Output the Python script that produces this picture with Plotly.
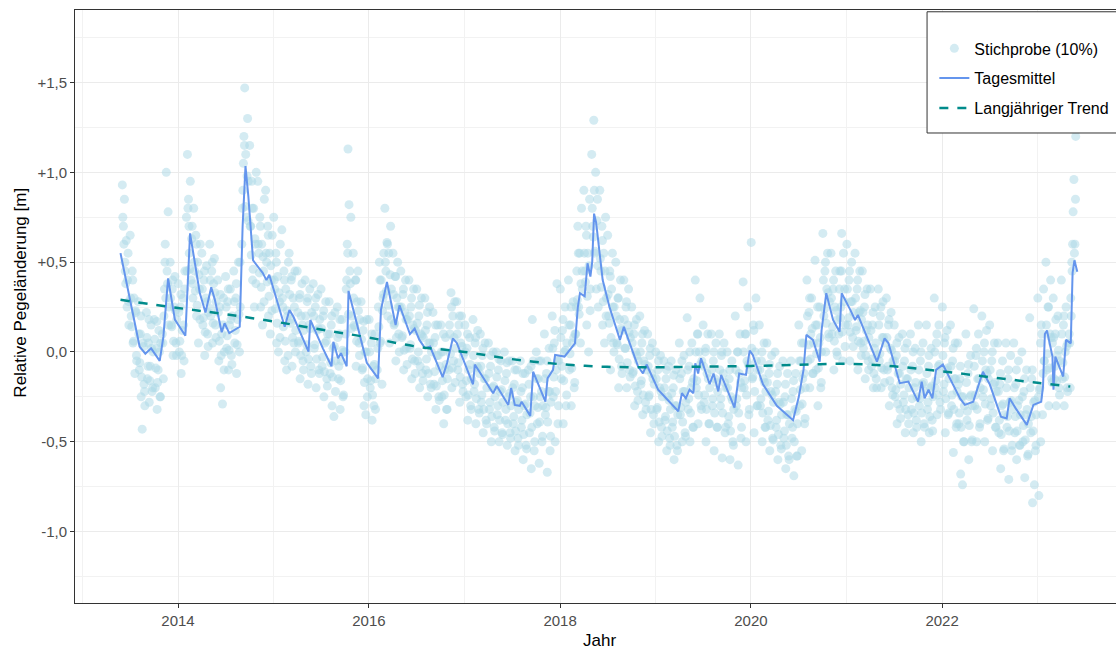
import plotly.graph_objects as go

# ---------------- data ----------------
mean_dates = [
    "2013-05-26", "2013-08-07", "2013-08-29", "2013-09-20", "2013-10-23", "2013-11-06", "2013-11-24",
    "2013-12-20", "2014-01-29", "2014-02-16", "2014-03-25", "2014-04-16", "2014-05-08", "2014-05-22",
    "2014-06-17", "2014-06-28", "2014-07-16", "2014-08-25", "2014-09-05", "2014-09-16", "2014-09-27",
    "2014-10-15", "2014-11-21", "2014-12-05", "2014-12-16", "2015-01-26", "2015-02-13", "2015-03-03",
    "2015-03-18", "2015-05-15", "2015-05-22", "2015-07-09", "2015-08-11", "2015-08-18", "2015-09-05",
    "2015-09-16", "2015-10-08", "2015-10-15", "2015-11-06", "2015-12-24", "2016-02-05", "2016-02-16",
    "2016-03-10", "2016-04-12", "2016-04-27", "2016-06-06", "2016-06-24", "2016-07-12", "2016-08-03",
    "2016-08-22", "2016-10-09", "2016-10-26", "2016-11-17", "2016-12-02", "2017-02-02", "2017-02-09",
    "2017-04-20", "2017-05-04", "2017-06-17", "2017-06-28", "2017-07-12", "2017-07-31", "2017-08-07",
    "2017-09-09", "2017-09-20", "2017-11-06", "2017-11-14", "2017-12-05", "2017-12-13", "2018-01-18",
    "2018-02-02", "2018-02-27", "2018-03-10", "2018-03-18", "2018-04-05", "2018-04-16", "2018-04-27",
    "2018-05-04", "2018-05-11", "2018-05-19", "2018-06-13", "2018-07-09", "2018-08-18", "2018-09-02",
    "2018-10-26", "2018-11-14", "2018-11-28", "2019-01-11", "2019-03-29", "2019-04-12", "2019-04-27",
    "2019-05-11", "2019-05-26", "2019-06-02", "2019-06-13", "2019-06-24", "2019-07-27", "2019-08-11",
    "2019-08-29", "2019-09-09", "2019-10-30", "2019-11-17", "2019-12-13", "2019-12-27", "2020-01-08",
    "2020-02-16", "2020-04-09", "2020-05-30", "2020-06-10", "2020-07-02", "2020-07-20", "2020-07-31",
    "2020-08-25", "2020-09-20", "2020-09-27", "2020-10-15", "2020-11-10", "2020-12-05", "2020-12-13",
    "2021-01-15", "2021-02-02", "2021-02-13", "2021-04-27", "2021-05-26", "2021-06-10", "2021-07-23",
    "2021-08-25", "2021-10-01", "2021-10-15", "2021-10-26", "2021-11-10", "2021-11-25", "2021-12-09",
    "2022-01-04", "2022-01-29", "2022-03-11", "2022-03-29", "2022-04-30", "2022-06-06", "2022-07-02",
    "2022-08-14", "2022-09-05", "2022-09-16", "2022-10-12", "2022-11-21", "2022-12-16", "2023-01-15",
    "2023-01-22", "2023-01-29", "2023-02-06", "2023-02-27", "2023-03-03", "2023-03-10", "2023-04-09",
    "2023-04-20", "2023-05-08", "2023-05-15", "2023-05-22", "2023-06-02",
]
mean_values = [
    0.55, 0.03, -0.01, 0.02, -0.05, 0.085, 0.41,
    0.18, 0.09, 0.66, 0.33, 0.22, 0.36, 0.29,
    0.11, 0.16, 0.105, 0.14, 0.70, 1.035, 0.865,
    0.51, 0.44, 0.40, 0.43, 0.22, 0.14, 0.234,
    0.197, 0.002, 0.178, 0.02, -0.08, 0.057, -0.035,
    -0.007, -0.08, 0.34, 0.217, -0.06, -0.147, 0.234,
    0.39, 0.15, 0.26, 0.10, 0.13, 0.067, 0.02,
    0.03, -0.14, -0.06, 0.076, 0.05, -0.18, -0.07,
    -0.23, -0.19, -0.295, -0.20, -0.295, -0.30, -0.277,
    -0.356, -0.11, -0.277, -0.147, -0.10, -0.017, -0.026,
    0.002, 0.048, 0.25, 0.327, 0.31, 0.494, 0.42,
    0.503, 0.77, 0.72, 0.40, 0.25, 0.067, 0.14,
    -0.08, -0.12, -0.07, -0.21, -0.33, -0.23, -0.258,
    -0.21, -0.23, -0.063, -0.12, -0.035, -0.18, -0.12,
    -0.22, -0.128, -0.31, -0.12, -0.128, 0.007, -0.017,
    -0.18, -0.30, -0.37, -0.38, -0.25, -0.10, 0.095,
    0.067, -0.054, 0.12, 0.327, 0.178, 0.113, 0.327,
    0.234, 0.178, 0.206, -0.054, 0.076, 0.048, -0.174,
    -0.165, -0.277, -0.165, -0.258, -0.21, -0.258, -0.10,
    -0.07, -0.14, -0.26, -0.295, -0.277, -0.11, -0.18,
    -0.36, -0.37, -0.258, -0.32, -0.406, -0.295, -0.277,
    -0.19, 0.10, 0.12, -0.026, -0.21, -0.026, -0.137,
    0.067, 0.048, 0.44, 0.51, 0.447,
]

trend_dates = [
    "2013-05-26", "2014-01-01", "2014-07-01", "2015-01-01", "2015-07-01", "2016-01-01",
    "2016-07-01", "2017-01-01", "2017-07-01", "2018-01-01", "2018-07-01", "2019-01-01",
    "2019-07-01", "2020-01-01", "2020-07-01", "2021-01-01", "2021-07-01", "2022-01-01",
    "2022-07-01", "2023-01-01", "2023-05-06",
]
trend_values = [
    0.29, 0.245, 0.21, 0.17, 0.125, 0.08,
    0.03, 0.0, -0.04, -0.068, -0.083, -0.085,
    -0.082, -0.078, -0.072, -0.066, -0.08, -0.108,
    -0.14, -0.172, -0.193,
]

# 10% sample: months and the sampled values read per month (spread rows + core rows)
sample_months = [f"{y}-{m:02d}" for y in range(2013, 2024) for m in range(1, 13)
                 if "2013-06" <= f"{y}-{m:02d}" <= "2023-05"]
sample_days = [2, 6, 10, 13, 17, 20, 24, 27]
sample_values = [
    [0.93, 0.70, 0.85, 0.45, 0.62, 0.25, 0.55, 0.15],
    [0.65, 0.20, 0.45, 0.05, 0.30, -0.12, 0.22, -0.05],
    [0.28, -0.10, 0.10, -0.25, -0.43, 0.05, -0.18, -0.30],
    [0.22, -0.15, 0.05, -0.28, -0.08, 0.15, -0.22, 0.0],
    [0.18, -0.20, 0.02, -0.32, -0.10, 0.12, -0.25, 0.05],
    [0.10, -0.15, 0.35, 0.60, 1.00, 0.45, 0.78, 0.25],
    [0.50, 0.15, 0.35, -0.02, 0.25, 0.42, 0.05, 0.18],
    [0.38, 0.0, 0.25, -0.12, 0.12, 0.30, -0.05, 0.45],
    [0.75, 1.10, 0.85, 0.55, 0.95, 0.40, 0.70, 0.30],
    [0.80, 0.45, 0.65, 0.20, 0.50, 0.05, 0.35, 0.60],
    [0.55, 0.15, 0.40, -0.02, 0.30, 0.48, 0.10, 0.22],
    [0.60, 0.20, 0.45, 0.05, 0.38, 0.52, 0.15, 0.28],
    [0.40, -0.05, 0.25, -0.20, 0.10, -0.29, 0.30, 0.0],
    [0.42, 0.02, 0.28, -0.10, 0.15, 0.35, -0.02, 0.20],
    [0.45, 0.05, 0.30, -0.12, 0.18, 0.50, 0.0, 0.25],
    [0.60, 0.90, 1.20, 1.47, 1.10, 0.75, 1.30, 0.95],
    [1.15, 0.70, 0.95, 0.40, 0.80, 0.25, 0.60, 1.00],
    [0.95, 0.55, 0.75, 0.25, 0.60, 0.15, 0.45, 0.85],
    [0.90, 0.50, 0.70, 0.20, 0.55, 0.10, 0.40, 0.65],
    [0.75, 0.35, 0.55, 0.05, 0.42, 0.0, 0.28, 0.60],
    [0.68, 0.25, 0.45, -0.05, 0.35, -0.10, 0.20, 0.50],
    [0.55, 0.18, 0.40, -0.08, 0.30, 0.05, 0.45, 0.12],
    [0.45, 0.05, 0.30, -0.15, 0.20, 0.38, -0.05, 0.12],
    [0.40, 0.0, 0.28, -0.18, 0.15, 0.35, -0.08, 0.22],
    [0.38, 0.02, 0.25, -0.20, 0.12, 0.32, -0.10, 0.18],
    [0.35, -0.08, 0.20, -0.25, 0.05, 0.28, -0.15, 0.10],
    [0.28, -0.12, 0.15, -0.30, 0.02, -0.36, 0.22, -0.05],
    [0.25, -0.15, 0.10, -0.32, -0.05, 0.18, -0.25, 0.0],
    [0.0, 0.35, 0.60, 1.13, 0.82, 0.45, 0.75, 0.20],
    [0.55, 0.15, 0.40, -0.08, 0.28, 0.45, 0.05, 0.18],
    [0.28, -0.10, 0.12, -0.30, 0.0, -0.35, 0.18, -0.15],
    [0.18, -0.20, 0.05, -0.38, -0.08, -0.30, 0.10, -0.15],
    [-0.10, 0.25, 0.50, 0.05, 0.40, -0.18, 0.30, 0.55],
    [0.80, 0.45, 0.61, 0.20, 0.55, 0.05, 0.70, 0.35],
    [0.55, 0.15, 0.42, -0.05, 0.30, 0.50, 0.10, 0.25],
    [0.45, 0.08, 0.32, -0.10, 0.22, 0.40, 0.02, 0.18],
    [0.40, 0.02, 0.25, -0.15, 0.15, 0.35, -0.05, 0.12],
    [0.35, -0.05, 0.20, -0.20, 0.10, 0.30, -0.12, 0.08],
    [0.30, -0.10, 0.15, -0.25, 0.05, 0.25, -0.18, 0.0],
    [0.22, -0.18, 0.08, -0.32, -0.02, 0.15, -0.25, -0.08],
    [0.15, -0.25, 0.0, -0.40, -0.10, 0.08, -0.32, -0.15],
    [-0.10, 0.10, 0.33, -0.20, 0.20, -0.05, 0.28, 0.02],
    [0.28, -0.10, 0.15, -0.28, 0.05, 0.20, -0.18, -0.02],
    [0.15, -0.25, 0.02, -0.38, -0.10, 0.08, -0.30, -0.15],
    [0.18, -0.22, 0.05, -0.40, -0.08, 0.12, -0.32, -0.12],
    [0.10, -0.28, -0.02, -0.45, -0.15, 0.05, -0.38, -0.20],
    [0.05, -0.32, -0.08, -0.50, -0.20, 0.0, -0.42, -0.25],
    [0.0, -0.35, -0.10, -0.50, -0.22, -0.05, -0.45, -0.28],
    [0.0, -0.38, -0.12, -0.52, -0.25, -0.05, -0.45, -0.30],
    [-0.05, -0.40, -0.18, -0.55, -0.28, -0.10, -0.48, -0.32],
    [-0.05, -0.42, -0.20, -0.60, -0.30, -0.12, -0.52, -0.35],
    [-0.10, -0.45, -0.25, -0.65, 0.18, -0.05, -0.55, -0.30],
    [0.0, -0.40, -0.15, -0.62, -0.25, -0.05, -0.50, -0.30],
    [0.10, -0.35, -0.12, -0.67, -0.22, 0.02, -0.55, -0.28],
    [0.20, -0.25, 0.05, -0.50, -0.10, 0.38, -0.40, -0.05],
    [0.35, -0.15, 0.12, -0.40, 0.0, 0.25, -0.30, 0.05],
    [0.40, -0.10, 0.15, -0.30, 0.05, 0.28, -0.20, 0.10],
    [0.10, 0.45, 0.70, 0.25, 0.55, 0.05, 0.80, 0.35],
    [0.90, 0.45, 0.70, 0.15, 0.55, 0.0, 0.85, 0.35],
    [1.10, 0.70, 1.29, 0.55, 1.00, 0.35, 0.85, 0.25],
    [0.90, 0.45, 0.70, 0.15, 0.55, 0.05, 0.75, 0.30],
    [0.65, 0.20, 0.45, -0.10, 0.35, 0.55, 0.05, 0.25],
    [0.50, 0.05, 0.30, -0.20, 0.18, 0.40, -0.08, 0.12],
    [0.40, 0.02, 0.25, -0.20, 0.15, 0.35, -0.10, 0.08],
    [0.25, -0.12, 0.10, -0.30, 0.0, 0.18, -0.22, -0.05],
    [0.20, -0.18, 0.05, -0.35, -0.05, 0.12, -0.28, -0.10],
    [0.10, -0.25, -0.02, -0.45, -0.12, 0.05, -0.35, -0.18],
    [0.0, -0.32, -0.10, -0.50, -0.20, -0.02, -0.42, -0.25],
    [-0.05, -0.38, -0.15, -0.55, -0.25, -0.08, -0.48, -0.32],
    [-0.05, -0.42, -0.20, -0.60, -0.30, -0.10, -0.52, -0.35],
    [0.05, -0.35, -0.12, -0.50, -0.22, -0.02, -0.45, -0.28],
    [0.19, -0.32, -0.08, -0.50, -0.20, 0.05, -0.42, -0.15],
    [0.40, -0.20, 0.10, -0.40, 0.0, 0.30, -0.30, -0.05],
    [0.15, -0.28, 0.0, -0.50, -0.12, 0.10, -0.40, -0.20],
    [0.10, -0.30, -0.05, -0.55, -0.15, 0.05, -0.42, -0.22],
    [0.10, -0.30, -0.02, -0.59, -0.12, 0.05, -0.45, -0.20],
    [0.0, -0.40, -0.15, -0.60, -0.25, -0.05, -0.50, -0.32],
    [0.20, -0.30, 0.0, -0.63, -0.12, 0.10, -0.48, -0.20],
    [0.39, -0.20, 0.10, -0.50, -0.05, 0.25, -0.35, -0.10],
    [0.61, -0.15, 0.15, -0.45, 0.0, 0.30, -0.30, -0.10],
    [0.15, -0.30, -0.05, -0.50, -0.15, 0.05, -0.42, -0.22],
    [0.05, -0.38, -0.12, -0.55, -0.22, -0.02, -0.48, -0.28],
    [0.0, -0.42, -0.18, -0.60, -0.28, -0.08, -0.52, -0.35],
    [-0.05, -0.48, -0.25, -0.65, -0.35, -0.12, -0.58, -0.40],
    [-0.05, -0.48, -0.22, -0.69, -0.32, -0.12, -0.58, -0.40],
    [0.15, -0.30, -0.05, -0.55, -0.15, 0.05, -0.40, -0.20],
    [0.40, -0.05, 0.22, -0.20, 0.10, 0.30, -0.12, 0.05],
    [0.51, -0.10, 0.15, -0.30, 0.05, 0.25, -0.20, 0.0],
    [0.66, 0.20, 0.45, 0.0, 0.35, 0.55, 0.10, 0.28],
    [0.55, 0.10, 0.35, -0.10, 0.25, 0.45, 0.0, 0.18],
    [0.10, 0.45, 0.25, 0.66, -0.05, 0.55, 0.35, 0.15],
    [0.60, 0.15, 0.40, -0.05, 0.28, 0.50, 0.08, 0.22],
    [0.55, 0.12, 0.35, -0.10, 0.22, 0.45, 0.05, 0.18],
    [0.45, 0.02, 0.25, -0.15, 0.12, 0.35, -0.05, 0.08],
    [0.35, -0.08, 0.15, -0.20, 0.02, 0.25, -0.15, -0.02],
    [0.35, -0.05, 0.20, -0.20, 0.08, 0.28, -0.10, 0.05],
    [0.30, -0.10, 0.15, -0.30, 0.02, 0.22, -0.20, -0.05],
    [0.15, -0.25, -0.02, -0.40, -0.12, 0.08, -0.32, -0.18],
    [0.10, -0.28, -0.05, -0.45, -0.15, 0.05, -0.35, -0.20],
    [0.10, -0.32, -0.08, -0.45, -0.20, 0.02, -0.38, -0.25],
    [0.15, -0.30, -0.05, -0.50, -0.18, 0.05, -0.40, -0.22],
    [0.15, -0.32, -0.08, -0.45, -0.20, 0.02, -0.38, -0.25],
    [0.30, -0.20, 0.05, -0.35, -0.08, 0.15, -0.28, -0.12],
    [0.25, -0.22, 0.05, -0.45, -0.10, 0.12, -0.35, -0.15],
    [0.15, -0.30, -0.05, -0.56, -0.15, 0.05, -0.42, -0.22],
    [0.05, -0.40, -0.15, -0.68, -0.25, -0.74, -0.50, -0.30],
    [0.10, -0.38, -0.12, -0.60, -0.25, -0.02, -0.50, -0.30],
    [0.24, -0.30, -0.02, -0.50, -0.15, 0.10, -0.42, -0.20],
    [0.20, -0.25, 0.0, -0.50, -0.10, 0.12, -0.38, -0.15],
    [0.15, -0.30, -0.05, -0.55, -0.18, 0.05, -0.42, -0.22],
    [0.05, -0.45, -0.18, -0.65, -0.30, -0.05, -0.55, -0.35],
    [0.05, -0.42, -0.15, -0.71, -0.28, -0.02, -0.55, -0.32],
    [0.05, -0.45, -0.18, -0.60, -0.30, -0.05, -0.52, -0.35],
    [0.0, -0.50, -0.22, -0.70, -0.35, -0.10, -0.58, -0.40],
    [0.19, -0.45, -0.15, -0.84, -0.28, -0.74, -0.55, -0.35],
    [0.30, -0.80, -0.20, -0.50, 0.10, -0.35, 0.35, -0.05],
    [0.50, -0.10, 0.25, -0.30, 0.10, 0.40, -0.15, 0.05],
    [0.30, -0.15, 0.10, -0.30, -0.02, 0.20, -0.20, -0.05],
    [0.40, -0.15, 0.15, -0.30, 0.0, 0.25, -0.20, 0.05],
    [0.10, -0.20, 0.20, 0.45, 0.78, 0.96, 0.60, 1.20],
]
core_days = [4, 8, 12, 15, 22, 26]
core_values = [
    [0.75, 0.60, 0.50, 0.38, 0.40, 0.28],
    [0.30, 0.14, 0.40, 0.06, 0.23, -0.02],
    [0.10, -0.06, 0.20, -0.14, 0.03, -0.22],
    [0.08, -0.08, 0.18, -0.16, 0.02, -0.20],
    [0.07, -0.09, 0.17, -0.17, 0.0, -0.25],
    [0.05, 0.20, 0.50, 0.30, 0.38, 0.15],
    [0.30, 0.14, 0.40, 0.06, 0.23, -0.02],
    [0.22, 0.06, 0.32, -0.02, 0.15, 0.35],
    [0.45, 0.80, 0.70, 0.46, 0.63, 0.38],
    [0.50, 0.34, 0.60, 0.26, 0.43, 0.18],
    [0.35, 0.19, 0.45, 0.11, 0.28, 0.03],
    [0.40, 0.24, 0.50, 0.16, 0.33, 0.08],
    [0.22, 0.06, 0.32, -0.02, 0.15, -0.10],
    [0.25, 0.09, 0.35, 0.01, 0.18, -0.07],
    [0.28, 0.12, 0.38, 0.04, 0.21, 0.50],
    [0.80, 1.05, 1.15, 0.81, 0.98, 0.73],
    [0.70, 0.54, 0.80, 0.46, 0.63, 0.38],
    [0.60, 0.44, 0.70, 0.36, 0.53, 0.28],
    [0.55, 0.39, 0.65, 0.31, 0.48, 0.23],
    [0.40, 0.24, 0.50, 0.16, 0.33, 0.08],
    [0.30, 0.14, 0.40, 0.06, 0.23, -0.02],
    [0.32, 0.16, 0.42, 0.08, 0.25, 0.0],
    [0.22, 0.06, 0.32, -0.02, 0.15, -0.10],
    [0.20, 0.04, 0.30, -0.04, 0.13, -0.12],
    [0.20, 0.04, 0.30, -0.04, 0.13, -0.12],
    [0.13, -0.03, 0.23, -0.11, 0.06, -0.19],
    [0.10, -0.06, 0.20, -0.14, 0.03, -0.22],
    [0.08, -0.08, 0.18, -0.16, 0.01, -0.24],
    [0.10, 0.40, 0.55, 0.21, 0.38, 0.13],
    [0.30, 0.14, 0.40, 0.06, 0.23, -0.02],
    [0.07, -0.09, 0.17, -0.17, 0.0, -0.25],
    [0.0, -0.16, 0.10, -0.24, -0.07, -0.32],
    [0.02, 0.14, 0.40, 0.06, 0.23, 0.32],
    [0.50, 0.34, 0.60, 0.26, 0.43, 0.18],
    [0.32, 0.16, 0.42, 0.08, 0.25, 0.0],
    [0.25, 0.09, 0.35, 0.01, 0.18, -0.07],
    [0.20, 0.04, 0.30, -0.04, 0.13, -0.12],
    [0.16, 0.0, 0.26, -0.08, 0.09, -0.16],
    [0.12, -0.04, 0.22, -0.12, 0.05, -0.20],
    [0.05, -0.11, 0.15, -0.19, -0.02, -0.27],
    [0.0, -0.16, 0.10, -0.24, -0.07, -0.32],
    [0.15, -0.01, 0.25, -0.09, 0.08, -0.17],
    [0.10, -0.06, 0.20, -0.14, 0.03, -0.22],
    [0.0, -0.16, 0.10, -0.24, -0.07, -0.32],
    [-0.02, -0.18, 0.08, -0.26, -0.09, -0.34],
    [-0.08, -0.24, 0.02, -0.32, -0.15, -0.40],
    [-0.12, -0.28, -0.02, -0.36, -0.19, -0.44],
    [-0.14, -0.30, -0.04, -0.38, -0.21, -0.46],
    [-0.16, -0.32, -0.06, -0.40, -0.23, -0.48],
    [-0.20, -0.36, -0.10, -0.44, -0.27, -0.52],
    [-0.22, -0.38, -0.12, -0.46, -0.29, -0.54],
    [-0.18, -0.34, -0.08, -0.42, -0.25, -0.50],
    [-0.15, -0.31, -0.05, -0.39, -0.22, -0.47],
    [-0.15, -0.31, -0.05, -0.39, -0.22, -0.47],
    [0.02, -0.14, 0.12, -0.22, -0.05, -0.30],
    [0.08, -0.08, 0.18, -0.16, 0.01, -0.24],
    [0.15, -0.01, 0.25, -0.09, 0.08, -0.17],
    [0.25, 0.29, 0.55, 0.21, 0.38, 0.45],
    [0.55, 0.39, 0.65, 0.31, 0.48, 0.23],
    [0.80, 0.64, 0.90, 0.56, 0.73, 0.48],
    [0.52, 0.36, 0.62, 0.28, 0.45, 0.20],
    [0.32, 0.16, 0.42, 0.08, 0.25, 0.0],
    [0.20, 0.04, 0.30, -0.04, 0.13, -0.12],
    [0.18, 0.02, 0.28, -0.06, 0.11, -0.14],
    [0.05, -0.11, 0.15, -0.19, -0.02, -0.27],
    [0.0, -0.16, 0.10, -0.24, -0.07, -0.32],
    [-0.08, -0.24, 0.02, -0.32, -0.15, -0.40],
    [-0.15, -0.31, -0.05, -0.39, -0.22, -0.47],
    [-0.20, -0.36, -0.10, -0.44, -0.27, -0.52],
    [-0.23, -0.39, -0.13, -0.47, -0.30, -0.55],
    [-0.15, -0.31, -0.05, -0.39, -0.22, -0.47],
    [-0.10, -0.26, 0.0, -0.34, -0.17, -0.42],
    [0.0, -0.16, 0.10, -0.24, -0.07, -0.32],
    [-0.08, -0.24, 0.02, -0.32, -0.15, -0.40],
    [-0.10, -0.26, 0.0, -0.34, -0.17, -0.42],
    [-0.10, -0.26, 0.0, -0.34, -0.17, -0.42],
    [-0.20, -0.36, -0.10, -0.44, -0.27, -0.52],
    [-0.10, -0.26, 0.0, -0.34, -0.17, -0.42],
    [0.0, -0.16, 0.10, -0.24, -0.07, -0.32],
    [0.02, -0.14, 0.12, -0.22, -0.05, -0.30],
    [-0.10, -0.26, 0.0, -0.34, -0.17, -0.42],
    [-0.17, -0.33, -0.07, -0.41, -0.24, -0.49],
    [-0.22, -0.38, -0.12, -0.46, -0.29, -0.54],
    [-0.28, -0.44, -0.18, -0.52, -0.35, -0.60],
    [-0.26, -0.42, -0.16, -0.50, -0.33, -0.58],
    [-0.05, -0.21, 0.05, -0.29, -0.12, -0.37],
    [0.20, 0.04, 0.30, -0.04, 0.13, -0.12],
    [0.15, -0.01, 0.25, -0.09, 0.08, -0.17],
    [0.40, 0.24, 0.50, 0.16, 0.33, 0.08],
    [0.30, 0.14, 0.40, 0.06, 0.23, -0.02],
    [0.35, 0.19, 0.45, 0.11, 0.28, 0.03],
    [0.35, 0.19, 0.45, 0.11, 0.28, 0.03],
    [0.30, 0.14, 0.40, 0.06, 0.23, -0.02],
    [0.22, 0.06, 0.32, -0.02, 0.15, -0.10],
    [0.12, -0.04, 0.22, -0.12, 0.05, -0.20],
    [0.15, -0.01, 0.25, -0.09, 0.08, -0.17],
    [0.08, -0.08, 0.18, -0.16, 0.01, -0.24],
    [-0.05, -0.21, 0.05, -0.29, -0.12, -0.37],
    [-0.08, -0.24, 0.02, -0.32, -0.15, -0.40],
    [-0.10, -0.26, 0.0, -0.34, -0.17, -0.42],
    [-0.10, -0.26, 0.0, -0.34, -0.17, -0.42],
    [-0.12, -0.28, -0.02, -0.36, -0.19, -0.44],
    [0.0, -0.16, 0.10, -0.24, -0.07, -0.32],
    [-0.02, -0.18, 0.08, -0.26, -0.09, -0.34],
    [-0.08, -0.24, 0.02, -0.32, -0.15, -0.40],
    [-0.18, -0.34, -0.08, -0.42, -0.25, -0.50],
    [-0.17, -0.33, -0.07, -0.41, -0.24, -0.49],
    [-0.08, -0.24, 0.02, -0.32, -0.15, -0.40],
    [-0.05, -0.21, 0.05, -0.29, -0.12, -0.37],
    [-0.10, -0.26, 0.0, -0.34, -0.17, -0.42],
    [-0.22, -0.38, -0.12, -0.46, -0.29, -0.54],
    [-0.20, -0.36, -0.10, -0.44, -0.27, -0.52],
    [-0.20, -0.36, -0.10, -0.44, -0.27, -0.52],
    [-0.25, -0.41, -0.15, -0.49, -0.32, -0.57],
    [-0.20, -0.36, -0.10, -0.44, -0.27, -0.52],
    [-0.25, -0.21, 0.05, 0.15, -0.12, -0.05],
    [0.15, -0.01, 0.25, -0.09, 0.08, -0.17],
    [0.08, -0.08, 0.18, -0.16, 0.01, -0.24],
    [0.10, -0.06, 0.20, -0.14, 0.03, -0.22],
    [0.05, 0.30, 0.50, 0.60, 0.55, 0.85],
]

y_tick_vals = [-1.0, -0.5, 0.0, 0.5, 1.0, 1.5]
y_tick_text = ["-1,0", "-0,5", "0,0", "+0,5", "+1,0", "+1,5"]
y_minor_vals = [-1.25, -0.75, -0.25, 0.25, 0.75, 1.25, 1.75]
x_tick_vals = ["2014-01-01", "2016-01-01", "2018-01-01", "2020-01-01", "2022-01-01"]
x_tick_text = ["2014", "2016", "2018", "2020", "2022"]
x_minor_vals = ["2013-01-01", "2015-01-01", "2017-01-01", "2019-01-01", "2021-01-01", "2023-01-01"]

# ---------------- figure ----------------
sx, sy = [], []
for month, row, core in zip(sample_months, sample_values, core_values):
    for d, v in zip(sample_days, row):
        sx.append(f"{month}-{d:02d}")
        sy.append(v)
    for d, v in zip(core_days, core):
        sx.append(f"{month}-{d:02d}")
        sy.append(v)

FONT = "Liberation Sans, Arial, Helvetica, sans-serif"
fig = go.Figure()
fig.add_trace(go.Scatter(
    x=sx, y=sy, mode="markers", name="Stichprobe (10%)", legendgroup="a",
    marker=dict(color="rgba(173,216,230,0.52)", size=9, line=dict(width=0)),
))
fig.add_trace(go.Scatter(
    x=mean_dates, y=mean_values, mode="lines", name="Tagesmittel", legendgroup="b",
    line=dict(color="#6495ED", width=2),
))
fig.add_trace(go.Scatter(
    x=trend_dates, y=trend_values, mode="lines", name="Langjähriger Trend", legendgroup="c",
    line=dict(color="#008B8B", width=2.5, dash="dash", shape="spline"),
))

axis_common = dict(
    showline=True, linecolor="#333333", linewidth=1, mirror=True,
    ticks="outside", ticklen=4, tickcolor="#333333", tickwidth=1,
    showgrid=True, gridcolor="#EBEBEB", gridwidth=1, zeroline=False,
    tickfont=dict(family=FONT, size=15, color="#4D4D4D"),
)
fig.update_xaxes(
    type="date", range=["2012-12-03", "2023-10-28"],
    tickvals=x_tick_vals, ticktext=x_tick_text,
    minor=dict(tickvals=x_minor_vals, showgrid=True, gridcolor="#F2F2F2", gridwidth=0.6, ticks=""),
    **axis_common,
)
fig.update_yaxes(
    range=[-1.398, 1.904], tickvals=y_tick_vals, ticktext=y_tick_text,
    minor=dict(tickvals=y_minor_vals, showgrid=True, gridcolor="#F2F2F2", gridwidth=0.6, ticks=""),
    **axis_common,
)
fig.update_layout(
    width=1116, height=649,
    margin=dict(l=75, r=0, t=10, b=46),
    paper_bgcolor="white", plot_bgcolor="white",
    font=dict(family=FONT, size=15, color="black"),
    showlegend=True,
    legend=dict(
        x=0.8255, y=0.988, xanchor="left", yanchor="top",
        bgcolor="rgba(0,0,0,0)", borderwidth=0,
        font=dict(family=FONT, size=16, color="black"),
        tracegroupgap=6, title=dict(text=" ", font=dict(size=11)),
    ),
    shapes=[
        dict(type="rect", xref="paper", yref="paper", x0=0.8185, x1=1.02, y0=0.7926, y1=0.997,
             line=dict(color="#333333", width=1), fillcolor="white", layer="above"),
    ],
    annotations=[
        dict(text="Jahr", xref="paper", yref="paper", x=0.504, y=-0.0624,
             xanchor="center", yanchor="middle", showarrow=False,
             font=dict(family=FONT, size=17, color="black")),
        dict(text="Relative Pegeländerung [m]", xref="paper", yref="paper", x=-0.0522, y=0.5228,
             xanchor="center", yanchor="middle", textangle=-90, showarrow=False,
             font=dict(family=FONT, size=17, color="black")),
    ],
)
fig.write_html("out.html")
